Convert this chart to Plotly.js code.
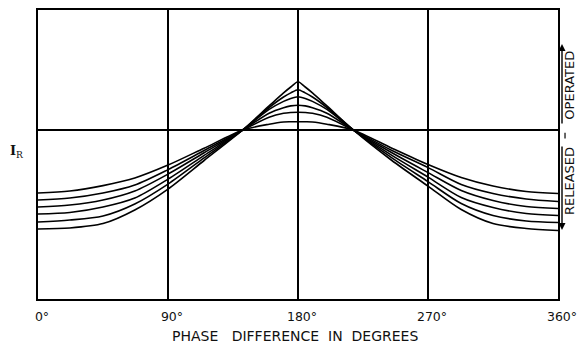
<!DOCTYPE html>
<html>
<head>
<meta charset="utf-8">
<script src="https://cdn.plot.ly/plotly-3.0.1.min.js"></script>
<style>
html,body{margin:0;padding:0;background:#fff;}
#chart{width:578px;height:343px;}
</style>
</head>
<body>
<div id="chart"></div>
<script>
// Phase difference (degrees)
const phase = [0, 22, 45, 67, 90, 115, 141.5, 160, 170, 175, 180, 185, 190, 200, 218.5, 245, 270, 293, 315, 338, 360];
// Relay current I_R (arbitrary units), six curves
const curveA = [106, 108, 113.4, 121, 133.9, 150.8, 168.8, 174.8, 177, 177.2, 177.3, 177.2, 177, 174.8, 168.8, 150.8, 134.5, 121.5, 113, 107.5, 105.5];
const curveB = [99, 101, 106, 114, 129.4, 148.5, 168.8, 181.8, 185.7, 186.5, 186.8, 186.5, 185.7, 181.8, 168.8, 148.5, 131.4, 114.5, 105.5, 100, 97.5];
const curveC = [92, 94, 99, 108, 124.9, 146.2, 168.8, 185.8, 191.3, 193.1, 193.8, 193.1, 191.3, 185.8, 168.8, 146.2, 126.4, 108.5, 98.5, 92.5, 90.5];
const curveD = [85, 86.5, 92, 101, 119.9, 143.6, 168.8, 189.6, 197.6, 200.6, 202.3, 200.6, 197.6, 189.6, 168.8, 143.6, 121.9, 101.5, 91.5, 85.5, 83.5];
const curveE = [77, 79, 83, 95, 114.9, 141.1, 168.8, 191.5, 202, 206.1, 209.3, 206.1, 202, 191.5, 168.8, 141.1, 117.4, 95.5, 83.5, 78, 76.5];
const curveF = [70, 71, 75.4, 89, 109.9, 138.5, 168.8, 193.1, 206.1, 212, 217.3, 212, 206.1, 193.1, 168.8, 138.5, 112.9, 89.5, 75.5, 70.5, 68.5];
const threshold = 168.8;
const xTicks = [0, 90, 180, 270, 360];
const xTickText = ['0°', '90°', '180°', '270°', '360°'];

const curves = [curveA, curveB, curveC, curveD, curveE, curveF];
const traces = curves.map(c => ({
  x: phase, y: c, type: 'scatter', mode: 'lines',
  line: {color: '#000', width: 1.6, shape: 'spline', smoothing: 0.8},
  hoverinfo: 'skip', showlegend: false
}));

const font = 'DejaVu Sans, sans-serif';
const layout = {
  width: 578, height: 343,
  margin: {l: 38, r: 20, t: 10, b: 44},
  paper_bgcolor: '#fff', plot_bgcolor: '#fff',
  showlegend: false,
  xaxis: {
    range: [0, 360], tickvals: xTicks, ticktext: xTickText,
    showgrid: true, gridcolor: '#000', gridwidth: 1.5,
    showline: true, mirror: true, linecolor: '#000', linewidth: 1.8,
    zeroline: false, ticks: '', ticklabelstandoff: 5, ticklabelshift: 4,
    ticklabeloverflow: 'allow',
    tickfont: {family: font, size: 12.5, color: '#111'}
  },
  yaxis: {
    range: [0, 289], tickvals: [threshold], showticklabels: false,
    showgrid: true, gridcolor: '#000', gridwidth: 1.6,
    showline: true, mirror: true, linecolor: '#000', linewidth: 1.8,
    zeroline: false, ticks: ''
  },
  annotations: [
    {xref: 'paper', yref: 'paper', x: 0.495, y: -0.128, xanchor: 'center', yanchor: 'middle',
     text: 'PHASE\u00a0\u00a0 DIFFERENCE\u00a0 IN\u00a0 DEGREES', showarrow: false, borderpad: 0,
     font: {family: font, size: 14, color: '#111'}},
    {xref: 'paper', yref: 'paper', x: -0.04, y: 0.51, xanchor: 'center', yanchor: 'middle',
     text: '<b>I</b><sub>R</sub>', showarrow: false,
     font: {family: 'DejaVu Serif, serif', size: 13, color: '#111'}},
    {xref: 'paper', yref: 'paper', x: 1.0221, y: 0.74, xanchor: 'center', yanchor: 'middle',
     text: 'OPERATED', textangle: -90, showarrow: false, borderpad: 0,
     font: {family: font, size: 13, color: '#111'}},
    {xref: 'paper', yref: 'paper', x: 1.0221, y: 0.41, xanchor: 'center', yanchor: 'middle',
     text: 'RELEASED', textangle: -90, showarrow: false, borderpad: 0,
     font: {family: font, size: 13, color: '#111'}},
    {xref: 'paper', yref: 'paper', x: 1.0077, y: 0.882, text: '', showarrow: true,
     ax: 0, ay: 81, arrowhead: 2, arrowsize: 1, arrowwidth: 1.4, arrowcolor: '#000'},
    {xref: 'paper', yref: 'paper', x: 1.0077, y: 0.239, text: '', showarrow: true,
     ax: 0, ay: -85, arrowhead: 2, arrowsize: 1, arrowwidth: 1.4, arrowcolor: '#000'}
  ],
  shapes: [
    {type: 'line', xref: 'paper', yref: 'paper', x0: 1.0135, x1: 1.0135, y0: 0.575, y1: 0.555,
     line: {color: '#000', width: 1.2}}
  ]
};

Plotly.newPlot('chart', traces, layout, {displayModeBar: false, staticPlot: true});
</script>
</body>
</html>
